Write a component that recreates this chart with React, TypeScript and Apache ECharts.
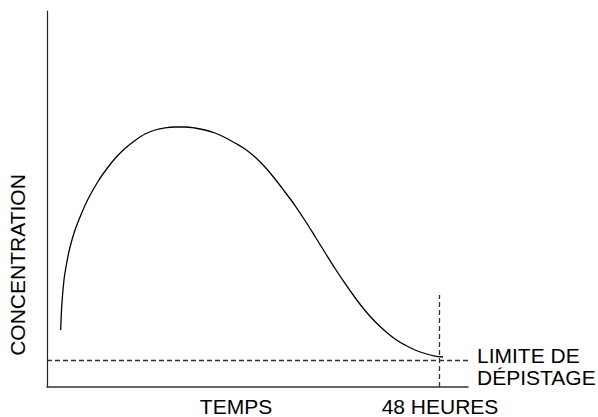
import React, { useEffect, useRef } from "react";
import * as echarts from "echarts";

// Concentration curve (time in hours, concentration in arbitrary units 0-100)
const timeHours = [1.68, 1.8, 2.08, 2.41, 2.82, 3.43, 4.25, 5.06, 6.28, 7.35, 8.33, 9.55, 10.78, 12.0, 13.22, 14.45, 15.67, 16.9, 18.12, 19.35, 20.57, 21.8, 23.02, 24.24, 25.47, 26.69, 27.92, 29.14, 30.37, 31.59, 32.82, 34.04, 35.27, 36.49, 37.71, 38.94, 40.16, 41.39, 42.61, 43.84, 45.06, 46.29, 47.51, 48.49];
const concentration = [15.16, 21.28, 28.46, 32.98, 37.23, 41.76, 46.28, 50.13, 54.79, 58.11, 60.77, 63.43, 65.56, 67.29, 68.35, 68.94, 69.15, 69.15, 68.88, 68.35, 67.55, 66.36, 64.89, 63.3, 61.17, 58.51, 55.32, 51.86, 48.27, 44.28, 40.03, 35.77, 31.52, 27.53, 23.8, 20.35, 17.42, 14.89, 12.77, 11.17, 9.84, 8.91, 8.24, 7.98];

const detectionLimit = 7.0;
const markerHour = 48;
const markerTop = 24.5;
const xMax = 51.55;
const yMax = 100;

const yAxisTitle = "CONCENTRATION";
const xAxisTitle = "TEMPS";
const markerLabel = "48 HEURES";
const limitLabel = ["LIMITE DE", "DÉPISTAGE"];

const FONT = "Arial, 'Liberation Sans', sans-serif";

export default function App() {
  const ref = useRef<HTMLDivElement>(null);
  useEffect(() => {
    if (!ref.current) return;
    const chart = echarts.init(ref.current, null, { renderer: "svg" });
    const data = timeHours.map((t, i) => [t, concentration[i]]);
    const grid = { left: 47, top: 11, width: 421, height: 376 };
    chart.setOption({
      animation: false,
      backgroundColor: "#ffffff",
      grid,
      xAxis: {
        type: "value",
        min: 0,
        max: xMax,
        axisLine: { show: true, lineStyle: { color: "#333", width: 1.5 } },
        axisTick: { show: false },
        axisLabel: { show: false },
        splitLine: { show: false },
      },
      yAxis: {
        type: "value",
        min: 0,
        max: yMax,
        axisLine: { show: true, lineStyle: { color: "#222", width: 1.2 } },
        axisTick: { show: false },
        axisLabel: { show: false },
        splitLine: { show: false },
      },
      series: [
        {
          type: "line",
          data,
          smooth: 0.35,
          symbol: "none",
          lineStyle: { color: "#000", width: 1.3 },
          markLine: {
            silent: true,
            symbol: "none",
            label: { show: false },
            lineStyle: { color: "#333", type: [5, 3], width: 1.3 },
            data: [
              [{ coord: [0, detectionLimit] }, { coord: [xMax, detectionLimit] }],
              [{ coord: [markerHour, 0] }, { coord: [markerHour, markerTop] }],
            ],
          },
        },
      ],
    });

    const xPx = (v: number) => chart.convertToPixel({ xAxisIndex: 0 }, v) as number;
    const yPx = (v: number) => chart.convertToPixel({ yAxisIndex: 0 }, v) as number;
    const textStyle = { fill: "#000", fontSize: 21, fontFamily: FONT };
    const limitY = yPx(detectionLimit);

    chart.setOption({
      graphic: [
        {
          type: "text",
          x: 17,
          y: 265,
          rotation: Math.PI / 2,
          style: { ...textStyle, text: yAxisTitle, align: "center", verticalAlign: "middle" },
        },
        {
          type: "text",
          x: 236,
          y: 417,
          style: { ...textStyle, text: xAxisTitle, align: "center", verticalAlign: "bottom" },
        },
        {
          type: "text",
          x: xPx(markerHour) + 1,
          y: 417,
          style: { ...textStyle, text: markerLabel, align: "center", verticalAlign: "bottom" },
        },
        {
          type: "text",
          x: 477,
          y: limitY - 5,
          style: { ...textStyle, text: limitLabel[0], align: "left", verticalAlign: "middle" },
        },
        {
          type: "text",
          x: 477,
          y: limitY + 17,
          style: { ...textStyle, text: limitLabel[1], align: "left", verticalAlign: "middle" },
        },
      ],
    });

    return () => chart.dispose();
  }, []);
  return <div ref={ref} style={{ width: 598, height: 417, position: "fixed", left: 0, top: 0 }} />;
}
